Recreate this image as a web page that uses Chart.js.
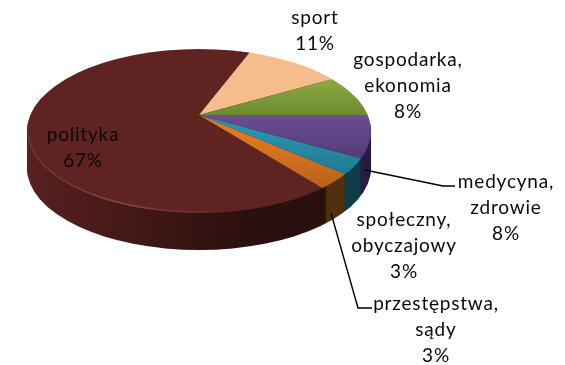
<!DOCTYPE html>
<html>
<head>
<meta charset="utf-8">
<style>
  html, body { margin: 0; padding: 0; background: #fff; }
  canvas { display: block; }
</style>
<script src="https://cdn.jsdelivr.net/npm/chart.js@4"></script>
</head>
<body>
<canvas id="pie" width="565" height="365"></canvas>
<script>
// Chart data
const categories = ['polityka', 'sport', 'gospodarka, ekonomia', 'medycyna, zdrowie', 'społeczny, obyczajowy', 'przestępstwa, sądy'];
const shares = [67, 11, 8, 8, 3, 3];

// Colours of each slice: top of face, bottom of face, side wall
const faceTop = ['#5f2322', '#f6bd8c', '#8cab40', '#6c4c94', '#2b93ae', '#df7a22'];
const faceBottom = ['#5f2322', '#f6bd8c', '#6b8b31', '#513b75', '#1f7b94', '#b9641a'];
const faceSpan = [[50, 212], [50, 115], [80, 115], [115, 160], [130, 172], [135, 185]];
const wallColors = ['#5a2120', '#5a2120', '#5a2120', '#2b1c48', '#0f3e4a', '#52300f'];

// 3D look: apex of the wedges, rim ellipse, wall height
const apex = { x: 199, y: 115 };
const rim = { x: 199, y: 131, rx: 172, ry: 82 };
const wallDepth = 37;
const squash = 0.49;
const zoom = 2;

// Label placement (centre x, middle y of first line)
const labelPos = [[83, 135], [315, 18], [408, 60], [506, 182], [404, 220], [436, 304]];
const lineStep = 26;
const leaders = [
  [[365, 170], [443, 186], [455, 186]],
  [[331, 213], [358, 308], [372, 308]]
];

function drawWedges(chart, ctx, shift, colorFor) {
  const arcs = chart.getDatasetMeta(0).data;
  ctx.save();
  ctx.beginPath();
  ctx.ellipse(rim.x, rim.y + shift, rim.rx, rim.ry, 0, 0, Math.PI * 2);
  ctx.clip();
  ctx.translate(apex.x, apex.y + shift);
  ctx.scale(zoom, zoom * squash);
  ctx.translate(-arcs[0].x, -arcs[0].y);
  arcs.forEach((arc, i) => {
    const saved = arc.options;
    arc.options = { ...saved, backgroundColor: colorFor(i, arc), borderWidth: 0 };
    arc.draw(ctx);
    arc.options = saved;
  });
  ctx.restore();
}

const pie3d = {
  id: 'pie3d',
  beforeDatasetsDraw(chart) {
    const ctx = chart.ctx;

    // side wall, stacked from the bottom up
    for (let d = wallDepth; d > 0; d--) {
      drawWedges(chart, ctx, d, i => wallColors[i]);
    }

    // wall gets darker towards the front
    ctx.save();
    ctx.globalCompositeOperation = 'source-atop';
    const shade = ctx.createLinearGradient(27, 0, 326, 0);
    shade.addColorStop(0, 'rgba(0,0,0,0)');
    shade.addColorStop(0.7, 'rgba(0,0,0,0.5)');
    shade.addColorStop(0.998, 'rgba(0,0,0,0.55)');
    shade.addColorStop(1, 'rgba(0,0,0,0)');
    ctx.fillStyle = shade;
    ctx.fillRect(0, 0, 565, 365);
    ctx.restore();

    // top face
    drawWedges(chart, ctx, 0, (i, arc) => {
      const toLocal = y => arc.y + (y - apex.y) / (zoom * squash);
      const g = ctx.createLinearGradient(0, toLocal(faceSpan[i][0]), 0, toLocal(faceSpan[i][1]));
      g.addColorStop(0, faceTop[i]);
      g.addColorStop(1, faceBottom[i]);
      return g;
    });

    // light edge along the front left of the rim
    ctx.save();
    const glow = ctx.createLinearGradient(27, 0, 230, 0);
    glow.addColorStop(0, 'rgba(150,90,88,0.3)');
    glow.addColorStop(0.5, 'rgba(150,90,88,0.6)');
    glow.addColorStop(1, 'rgba(150,90,88,0)');
    ctx.strokeStyle = glow;
    ctx.lineWidth = 1.5;
    ctx.beginPath();
    ctx.ellipse(rim.x, rim.y, rim.rx - 1, rim.ry - 1, 0, Math.PI * 0.45, Math.PI * 0.98);
    ctx.stroke();
    ctx.restore();

    return false;
  },
  afterDraw(chart) {
    const ctx = chart.ctx;
    ctx.save();

    // leader lines
    ctx.strokeStyle = '#000';
    ctx.lineWidth = 1.4;
    leaders.forEach(pts => {
      ctx.beginPath();
      pts.forEach((p, i) => i ? ctx.lineTo(p[0], p[1]) : ctx.moveTo(p[0], p[1]));
      ctx.stroke();
    });

    // labels
    ctx.fillStyle = '#0a0a0a';
    ctx.font = '19px Lato';
    ctx.letterSpacing = '0.8px';
    ctx.textAlign = 'center';
    ctx.textBaseline = 'middle';
    categories.forEach((name, i) => {
      const lines = name.replace(', ', ',\n').split('\n').concat(shares[i] + '%');
      lines.forEach((line, j) => {
        ctx.fillText(line, labelPos[i][0], labelPos[i][1] + j * lineStep);
      });
    });
    ctx.restore();
  }
};

new Chart(document.getElementById('pie').getContext('2d'), {
  type: 'pie',
  data: {
    labels: categories,
    datasets: [{
      data: shares,
      backgroundColor: faceTop,
      borderWidth: 0
    }]
  },
  options: {
    responsive: false,
    animation: false,
    rotation: 140.4,
    layout: { padding: 10 },
    plugins: {
      legend: { display: false },
      tooltip: { enabled: false }
    }
  },
  plugins: [pie3d]
});
</script>
</body>
</html>
